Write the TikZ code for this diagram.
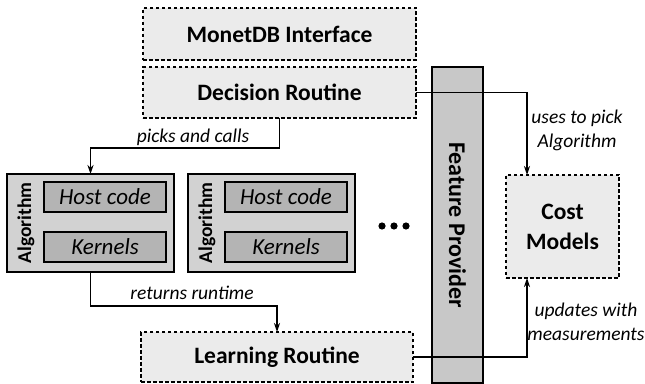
\documentclass[tikz,border=0pt]{standalone}
\usepackage{fontspec}
\setmainfont{Carlito}
\usetikzlibrary{arrows.meta,calc}
\definecolor{boxfill}{HTML}{EBEBEB}
\definecolor{algfill}{HTML}{D2D2D2}
\definecolor{innerfill}{HTML}{B4B4B4}
\definecolor{barfill}{HTML}{C8C8C8}
\tikzset{
  x=1pt,y=1pt,
  every node/.style={inner sep=0pt, outer sep=0pt},
  module/.style={draw, dashed, dash pattern=on 3.5pt off 2.5pt, line width=1.2pt, fill=boxfill,
    font=\fontsize{23.5}{30}\selectfont\bfseries, align=center},
  algbox/.style={draw, line width=1.3pt, fill=algfill, minimum width=167, minimum height=98},
  partbox/.style={draw, line width=1.3pt, fill=innerfill, minimum width=122, minimum height=30,
    font=\fontsize{23}{26}\selectfont\itshape},
  sidelabel/.style={font=\fontsize{19.5}{22}\selectfont\bfseries},
  barlabel/.style={font=\fontsize{24}{26}\selectfont\bfseries},
  edgelabel/.style={font=\fontsize{19.5}{24}\selectfont\itshape, align=center},
  link/.style={line width=1.3pt, -{Stealth[length=9pt,width=6pt]}},
}
\begin{document}
\begin{tikzpicture}
\useasboundingbox (0,0) rectangle (645,383);

% main routine boxes
\node[module, minimum width=273, minimum height=52] (monet) at (279.5,349) {MonetDB Interface};
\node[module, minimum width=273, minimum height=51] (decision) at (279.5,290.5) {Decision Routine};
\node[module, minimum width=272, minimum height=50] (learning) at (277,26) {Learning Routine};
\node[module, minimum width=113, minimum height=103] (cost) at (562.5,156.5) {Cost\\Models};

% feature provider column
\node[draw, line width=1.3pt, fill=barfill, minimum width=51, minimum height=316] (feature) at (457.5,158) {};
\node[barlabel, rotate=-90] (featuretxt) at (feature.center) {Feature Provider};

% algorithm variants
\node[algbox] (alg1) at (90.5,160) {};
\node[sidelabel, rotate=90] (alg1txt) at (26,160) {Algorithm};
\node[partbox] (host1) at (105,186) {Host code};
\node[partbox] (kern1) at (105,136) {Kernels};

\node[algbox] (alg2) at (271.5,160) {};
\node[sidelabel, rotate=90] (alg2txt) at (207,160) {Algorithm};
\node[partbox] (host2) at (286,186) {Host code};
\node[partbox] (kern2) at (286,136) {Kernels};

% more variants
\foreach \px in {382,394,406} \fill (\px,157) circle (3.6);

% connectors
\coordinate (costx) at (527,0);
\draw[link] (decision.south) -- ++(0,-30) -| (alg1.north);
\draw[link] (alg1.south) -- ++(0,-34) -| (learning.north);
\draw[link] (decision.east) -| (costx |- cost.north);
\draw[link] (learning.east) -| (costx |- cost.south);

% connector labels
\node[edgelabel] (lpick) at (193,246) {picks and calls};
\node[edgelabel] (lret) at (192,90) {returns runtime};
\node[edgelabel] (luse) at (577,253) {uses to pick\\Algorithm};
\node[edgelabel] (lupd) at (586,61) {updates with\\measurements};
\end{tikzpicture}
\end{document}
